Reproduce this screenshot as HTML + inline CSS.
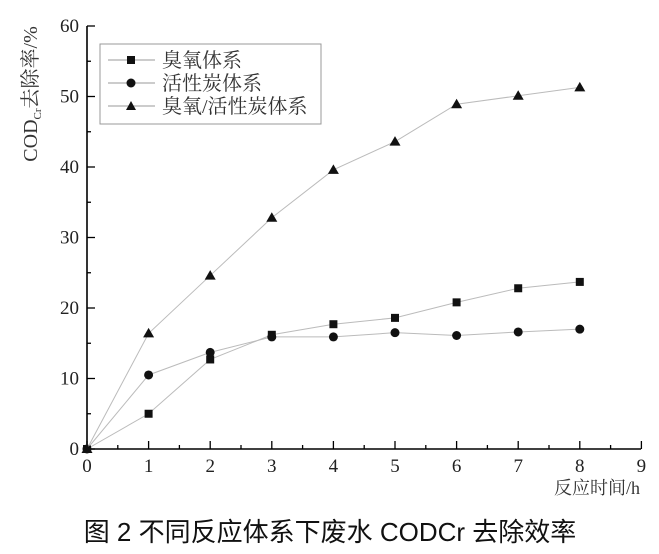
<!DOCTYPE html><html><head><meta charset="utf-8"><style>body{margin:0;background:#fff}svg{display:block}</style></head><body>
<svg width="659" height="554" xmlns="http://www.w3.org/2000/svg" font-family="Liberation Serif, Noto Serif CJK SC, serif">
<g id="axes" stroke="#000" stroke-width="1.6">
<line x1="87" y1="26" x2="87" y2="449"/><line x1="87" y1="449" x2="641" y2="449"/>
</g>
<g stroke="#000" stroke-width="1.3" id="ticks"></g>
<g font-size="19" fill="#222" text-anchor="end" id="yl"></g>
<g font-size="19" fill="#222" text-anchor="middle" id="xl"></g>
<text x="640" y="494" font-size="18" text-anchor="end" fill="#333">反应时间/h</text>
<text transform="translate(37,94) rotate(-90)" font-size="20" text-anchor="middle" fill="#333">COD<tspan font-size="11" dy="4">Cr</tspan><tspan dy="-4">去除率/%</tspan></text>
<text x="330" y="541" font-size="26" text-anchor="middle" font-family="Liberation Sans, Noto Sans CJK SC, sans-serif" fill="#111">图 2 不同反应体系下废水 CODCr 去除效率</text>
<g id="series" fill="none" stroke="#bbb" stroke-width="1"></g>
<rect x="100" y="44" width="221" height="80" fill="#fff" stroke="#999" stroke-width="1"/>
<g stroke="#999"><line x1="108" y1="60" x2="155" y2="60"/><line x1="108" y1="83" x2="155" y2="83"/><line x1="108" y1="106" x2="155" y2="106"/></g>
<rect x="127" y="56" width="8" height="8" fill="#111"/><circle cx="131" cy="83" r="4.5" fill="#111"/><polygon points="131,101 136,110 126,110" fill="#111"/>
<g font-size="20" fill="#333"><text x="162" y="67">臭氧体系</text><text x="162" y="90">活性炭体系</text><text x="162" y="113">臭氧/活性炭体系</text></g>
<script>
const N='http://www.w3.org/2000/svg';function el(p,t,a,txt){const e=document.createElementNS(N,t);for(const k in a)e.setAttribute(k,a[k]);if(txt!==undefined)e.textContent=txt;document.getElementById(p).appendChild(e);return e;}
const X=x=>87+61.6*x,Y=y=>449-7.05*y;
for(let i=0;i<=18;i++){const x=X(i/2);el('ticks','line',{x1:x,y1:449,x2:x,y2:i%2?445:441});if(i%2==0)el('xl','text',{x:x,y:472},i/2);}
for(let i=0;i<=12;i++){const y=Y(i*5);el('ticks','line',{x1:87,y1:y,x2:i%2?91:95,y2:y});if(i%2==0)el('yl','text',{x:79,y:y+6},i*5);}
const S=[[0,5,12.7,16.2,17.7,18.6,20.8,22.8,23.7],[0,10.5,13.7,15.9,15.9,16.5,16.1,16.6,17],[0,16.4,24.6,32.8,39.6,43.6,48.9,50.1,51.3]];
S.forEach((s,k)=>{el('series','polyline',{points:s.map((v,i)=>X(i)+','+Y(v)).join(' ')});
s.forEach((v,i)=>{const x=X(i),y=Y(v);let e;
if(k==0)e=el('series','rect',{x:x-4,y:y-4,width:8,height:8});
else if(k==1)e=el('series','circle',{cx:x,cy:y,r:4.5});
else e=el('series','polygon',{points:`${x},${y-5.5} ${x+5.5},${y+4} ${x-5.5},${y+4}`});
e.setAttribute('fill','#111');e.setAttribute('stroke','none');});});
</script>
</svg></body></html>
